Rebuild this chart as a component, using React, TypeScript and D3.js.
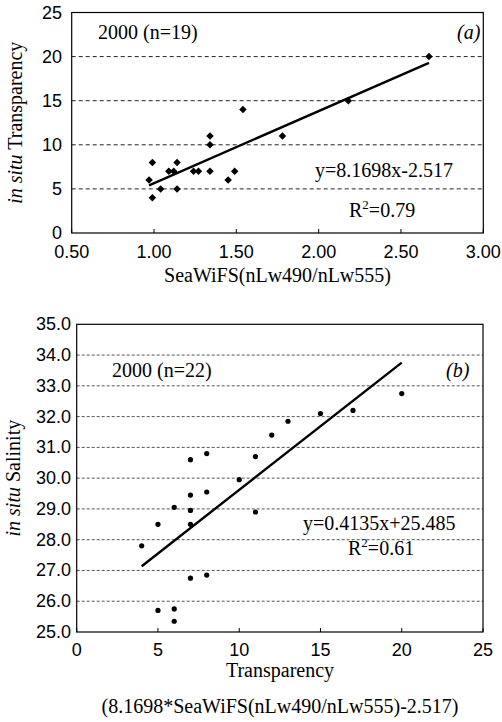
import React from 'react';
import * as d3 from 'd3';

const W = 502;
const H = 722;
const serif = '"Liberation Serif", "Times New Roman", serif';
const sans = '"Liberation Sans", Arial, sans-serif';

// panel (a): SeaWiFS ratio vs in situ transparency (2000, n=19)
const ratioX = [2.67, 2.18, 1.54, 1.78, 1.34, 1.34, 0.99, 1.14, 1.09, 1.12, 1.24, 1.27, 1.34, 1.49, 1.45, 0.97, 1.04, 1.14, 0.99];
const transpY = [20, 15, 14, 11, 11, 10, 8, 8, 7, 7, 7, 7, 7, 7, 6, 6, 5, 5, 4];
const aTicksX = [0.5, 1.0, 1.5, 2.0, 2.5, 3.0];
const aTicksY = [0, 5, 10, 15, 20, 25];
const aFit = { slope: 8.1698, icept: -2.517 };

// panel (b): derived transparency vs in situ salinity (2000, n=22)
const transX = [20, 17, 15, 13, 12, 11, 8, 7, 10, 7, 8, 6, 7, 11, 5, 7, 4, 7, 8, 5, 6, 6];
const salinY = [32.75, 32.2, 32.1, 31.85, 31.4, 30.7, 30.8, 30.6, 29.95, 29.45, 29.55, 29.05, 28.95, 28.9, 28.5, 28.5, 27.8, 26.75, 26.85, 25.7, 25.75, 25.35];
const bTicksX = [0, 5, 10, 15, 20, 25];
const bTicksY = [25, 26, 27, 28, 29, 30, 31, 32, 33, 34, 35];
const bFit = { slope: 0.4135, icept: 25.485 };

const diamond = d3.symbol(d3.symbolSquare, 28)();

function Rsq({ x, y, value }: { x: number; y: number; value: string }) {
  return (
    <text x={x} y={y} fontFamily={serif} fontSize={20}>
      R<tspan dy={-8} fontSize={13}>2</tspan>
      <tspan dy={8}>={value}</tspan>
    </text>
  );
}

function PanelA() {
  const x = d3.scaleLinear().domain([0.5, 3]).range([71.7, 483.3]);
  const y = d3.scaleLinear().domain([0, 25]).range([233, 12.5]);
  const [x0, x1] = d3.extent(ratioX) as [number, number];
  const fit = d3
    .line<number>()
    .x((d) => x(d))
    .y((d) => y(aFit.slope * d + aFit.icept));
  return (
    <g>
      {aTicksY.slice(1, -1).map((t) => (
        <line key={t} x1={x(0.5)} x2={x(3)} y1={y(t)} y2={y(t)} stroke="#222" strokeDasharray="4,3" />
      ))}
      <rect x={x(0.5)} y={y(25)} width={x(3) - x(0.5)} height={y(0) - y(25)} fill="none" stroke="#000" strokeWidth={1.2} />
      {aTicksX.map((t) => (
        <g key={t}>
          <line x1={x(t)} x2={x(t)} y1={y(0)} y2={y(0) - 4} stroke="#000" />
          <text x={x(t)} y={258} textAnchor="middle" fontFamily={sans} fontSize={18}>
            {t.toFixed(2)}
          </text>
        </g>
      ))}
      {aTicksY.map((t) => (
        <text key={t} x={62} y={y(t) + 6} textAnchor="end" fontFamily={sans} fontSize={18}>
          {t}
        </text>
      ))}
      <path d={fit([x0, x1]) || ''} stroke="#000" strokeWidth={2.4} fill="none" />
      {ratioX.map((v, i) => (
        <path key={i} d={diamond || ''} transform={`translate(${x(v)},${y(transpY[i])}) rotate(45)`} fill="#000" />
      ))}
      <text x={98} y={39} fontFamily={serif} fontSize={20}>2000 (n=19)</text>
      <text x={457} y={39} fontFamily={serif} fontSize={20} fontStyle="italic">(a)</text>
      <text x={315} y={177} fontFamily={serif} fontSize={20}>y=8.1698x-2.517</text>
      <Rsq x={349} y={217} value="0.79" />
      <text x={277.5} y={282} textAnchor="middle" fontFamily={serif} fontSize={20}>
        SeaWiFS(nLw490/nLw555)
      </text>
      <text transform={`translate(22,${(y(0) + y(25)) / 2}) rotate(-90)`} textAnchor="middle" fontFamily={serif} fontSize={20}>
        <tspan fontStyle="italic">in situ</tspan> Transparency
      </text>
    </g>
  );
}

function PanelB() {
  const x = d3.scaleLinear().domain([0, 25]).range([76.7, 483]);
  const y = d3.scaleLinear().domain([25, 35]).range([632, 324.3]);
  const [x0, x1] = d3.extent(transX) as [number, number];
  const fit = d3
    .line<number>()
    .x((d) => x(d))
    .y((d) => y(bFit.slope * d + bFit.icept));
  return (
    <g>
      {bTicksY.slice(1, -1).map((t) => (
        <line key={t} x1={x(0)} x2={x(25)} y1={y(t)} y2={y(t)} stroke="#555" strokeDasharray="3,2" />
      ))}
      <rect x={x(0)} y={y(35)} width={x(25) - x(0)} height={y(25) - y(35)} fill="none" stroke="#000" strokeWidth={1.2} />
      {bTicksX.map((t) => (
        <g key={t}>
          <line x1={x(t)} x2={x(t)} y1={y(25)} y2={y(25) - 4} stroke="#000" />
          <text x={x(t)} y={656} textAnchor="middle" fontFamily={sans} fontSize={18}>
            {t}
          </text>
        </g>
      ))}
      {bTicksY.map((t) => (
        <text key={t} x={71} y={y(t) + 6} textAnchor="end" fontFamily={sans} fontSize={18}>
          {t.toFixed(1)}
        </text>
      ))}
      <path d={fit([x0, x1]) || ''} stroke="#000" strokeWidth={2.4} fill="none" />
      {transX.map((v, i) => (
        <circle key={i} cx={x(v)} cy={y(salinY[i])} r={2.6} fill="#000" />
      ))}
      <text x={112} y={377} fontFamily={serif} fontSize={20}>2000 (n=22)</text>
      <text x={446} y={377} fontFamily={serif} fontSize={20} fontStyle="italic">(b)</text>
      <text x={303} y={530} fontFamily={serif} fontSize={20}>y=0.4135x+25.485</text>
      <Rsq x={348} y={555} value="0.61" />
      <text x={280} y={677} textAnchor="middle" fontFamily={serif} fontSize={20}>Transparency</text>
      <text x={280} y={713} textAnchor="middle" fontFamily={serif} fontSize={20}>
        (8.1698*SeaWiFS(nLw490/nLw555)-2.517)
      </text>
      <text transform={`translate(20,${(y(25) + y(35)) / 2}) rotate(-90)`} textAnchor="middle" fontFamily={serif} fontSize={20}>
        <tspan fontStyle="italic">in situ</tspan> Salinity
      </text>
    </g>
  );
}

export default function App() {
  return (
    <div style={{ position: 'absolute', left: 0, top: 0 }}>
      <svg width={W} height={H} style={{ display: 'block', background: '#fff' }}>
        <PanelA />
        <PanelB />
      </svg>
    </div>
  );
}
